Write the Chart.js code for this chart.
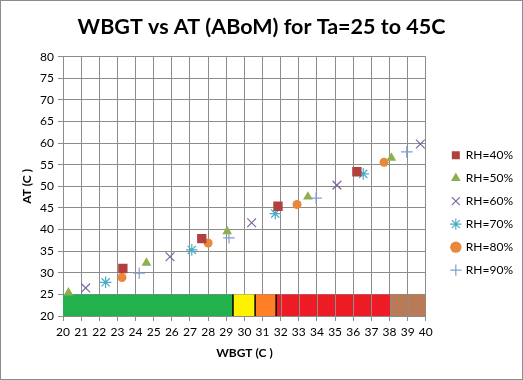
<!DOCTYPE html>
<html>
<head>
<meta charset="utf-8">
<script src="https://cdn.jsdelivr.net/npm/chart.js@4/dist/chart.umd.min.js"></script>
<style>
  html, body { margin: 0; padding: 0; background: #fff; }
  #wrap { width: 523px; height: 380px; position: relative; }
  canvas { display: block; }
</style>
</head>
<body>
<div id="wrap"><canvas id="c" width="523" height="380"></canvas></div>
<script>
// ---- data ----
const seriesLabels = ['RH=40%', 'RH=50%', 'RH=60%', 'RH=70%', 'RH=80%', 'RH=90%'];
const wbgt40 = [23.3, 27.65, 31.85, 36.2];
const at40   = [31.0, 37.9, 45.4, 53.4];
const wbgt50 = [20.3, 24.6, 29.05, 33.5, 38.1];
const at50   = [25.4, 32.3, 39.6, 47.6, 56.6];
const wbgt60 = [21.25, 25.9, 30.4, 35.1, 39.7];
const at60   = [26.5, 33.7, 41.6, 50.3, 59.8];
const wbgt70 = [22.35, 27.1, 31.7, 36.55];
const at70   = [27.8, 35.3, 43.7, 52.9];
const wbgt80 = [23.25, 28.0, 32.9, 37.7];
const at80   = [28.9, 36.9, 45.8, 55.6];
const wbgt90 = [24.2, 29.15, 33.95, 38.95];
const at90   = [29.9, 38.1, 47.3, 58.0];

// risk bands along the bottom (WBGT ranges), top at AT=25
const bandStart = [20, 29.37, 30.59, 31.75, 38.03];
const bandEnd   = [29.37, 30.59, 31.75, 38.03, 40];
const bandTop   = 25;
const separators = [29.37, 30.59, 31.75];
const gridBands = [3, 4]; // bands whose area still shows the grid

const xTicksMin = 20, xTicksMax = 40, xStep = 1;
const yTicksMin = 20, yTicksMax = 80, yStep = 5;

// ---- styling ----
const FONT = 'Lato, "Open Sans", sans-serif';
const markerColors = ['#B0413E', '#8FAE4F', '#8064A2', '#4BACC6', '#E9873A', '#7F9FCF'];
const markerStyles = ['rect', 'triangle', 'crossRot', 'star', 'circle', 'cross'];
const markerRadius = [6.6, 5.6, 6.2, 5.8, 4.5, 5.8];
const bandColors = ['#22B14C', '#FFF200', '#FF7F27', '#ED1C24', '#B97A57'];

const zip = (xs, ys) => xs.map((x, i) => ({ x, y: ys[i] }));
const seriesX = [wbgt40, wbgt50, wbgt60, wbgt70, wbgt80, wbgt90];
const seriesY = [at40, at50, at60, at70, at80, at90];

const datasets = [];
seriesLabels.forEach((lab, i) => {
  const lineStyle = ['crossRot', 'star', 'cross'].includes(markerStyles[i]);
  datasets.push({
    type: 'scatter',
    label: lab,
    data: zip(seriesX[i], seriesY[i]),
    pointStyle: markerStyles[i],
    pointRadius: markerRadius[i],
    pointHoverRadius: markerRadius[i],
    backgroundColor: markerColors[i],
    borderColor: markerColors[i],
    borderWidth: lineStyle ? 1.2 : 0,
    order: 0
  });
});
bandStart.forEach((s, i) => {
  datasets.push({
    type: 'line',
    label: 'band' + i,
    data: [{ x: s, y: bandTop }, { x: bandEnd[i], y: bandTop }],
    fill: 'start',
    backgroundColor: bandColors[i],
    borderWidth: 0,
    pointRadius: 0,
    order: 10
  });
});
separators.forEach((s, i) => {
  datasets.push({
    type: 'line',
    label: 'sep' + i,
    data: [{ x: s, y: yTicksMin }, { x: s, y: bandTop }],
    borderColor: '#000',
    borderWidth: 1.5,
    pointRadius: 0,
    fill: false,
    order: 5
  });
});

const borderPlugin = {
  id: 'outerBorder',
  beforeDraw(chart) {
    const ctx = chart.ctx;
    ctx.save();
    ctx.fillStyle = '#fff';
    ctx.fillRect(0, 0, chart.width, chart.height);
    ctx.restore();
  },
  afterDraw(chart) {
    const ctx = chart.ctx;
    ctx.save();
    ctx.strokeStyle = '#8c8c8c';
    ctx.lineWidth = 1;
    ctx.strokeRect(0.5, 0.5, chart.width - 1, chart.height - 1);
    ctx.restore();
  }
};

// nudge legend to the right and center title over the whole canvas
const layoutNudge = {
  id: 'layoutNudge',
  afterLayout(chart) {
    if (chart.legend) { chart.legend.left += 15; chart.legend.right += 15; }
    if (chart.titleBlock) { chart.titleBlock.left = 0; chart.titleBlock.right = chart.width; }
  }
};

// grid lines visible through the red/brown bands
const bandGridPlugin = {
  id: 'bandGrid',
  afterDatasetsDraw(chart) {
    const xs = chart.scales.x, ys = chart.scales.y;
    const ctx = chart.ctx;
    ctx.save();
    ctx.strokeStyle = '#8c8c8c';
    ctx.lineWidth = 1;
    const y0 = ys.getPixelForValue(yTicksMin), y1 = ys.getPixelForValue(bandTop);
    gridBands.forEach(b => {
      for (let v = Math.ceil(bandStart[b]); v < bandEnd[b]; v += xStep) {
        const px = Math.round(xs.getPixelForValue(v)) + 0.5;
        ctx.beginPath();
        ctx.moveTo(px, y0);
        ctx.lineTo(px, y1);
        ctx.stroke();
      }
    });
    ctx.restore();
  }
};

new Chart(document.getElementById('c'), {
  data: { datasets },
  plugins: [borderPlugin, layoutNudge, bandGridPlugin],
  options: {
    responsive: false,
    animation: false,
    devicePixelRatio: 1,
    layout: { padding: { left: 0, right: 15, top: 0, bottom: 0 } },
    plugins: {
      tooltip: { enabled: false },
      title: {
        display: true,
        text: 'WBGT vs AT (ABoM) for Ta=25 to 45C',
        color: '#000',
        font: { family: FONT, size: 21.5, weight: 'bold' },
        padding: { top: 14, bottom: 17 }
      },
      legend: {
        position: 'right',
        title: { display: true, text: ' ', font: { size: 2 }, padding: { top: 43, bottom: 0 } },
        labels: {
          filter: (item) => item.datasetIndex < seriesLabels.length,
          usePointStyle: true,
          boxWidth: 8,
          boxHeight: 8,
          padding: 11,
          color: '#000',
          font: { family: FONT, size: 12 }
        }
      }
    },
    scales: {
      x: {
        type: 'linear',
        min: xTicksMin,
        max: xTicksMax,
        afterFit: (s) => { s.height = 64; },
        ticks: { stepSize: xStep, color: '#000', font: { family: FONT, size: 12 }, maxRotation: 0, autoSkip: false, padding: 4 },
        grid: { color: '#8c8c8c', tickLength: 5, tickColor: '#8c8c8c' },
        border: { color: '#8c8c8c' },
        title: { display: true, text: 'WBGT (C )', color: '#000', font: { family: FONT, size: 12, weight: 'bold' }, padding: { top: 0, bottom: 20 } }
      },
      y: {
        type: 'linear',
        min: yTicksMin,
        max: yTicksMax,
        afterFit: (s) => { s.width = 63; },
        ticks: { stepSize: yStep, color: '#000', font: { family: FONT, size: 12 }, padding: 4 },
        grid: { color: '#8c8c8c', tickLength: 5, tickColor: '#8c8c8c' },
        border: { color: '#8c8c8c' },
        title: { display: true, text: 'AT (C )', color: '#000', font: { family: FONT, size: 12, weight: 'bold' }, padding: { top: 20, bottom: 0 } }
      }
    }
  }
});
</script>
</body>
</html>
